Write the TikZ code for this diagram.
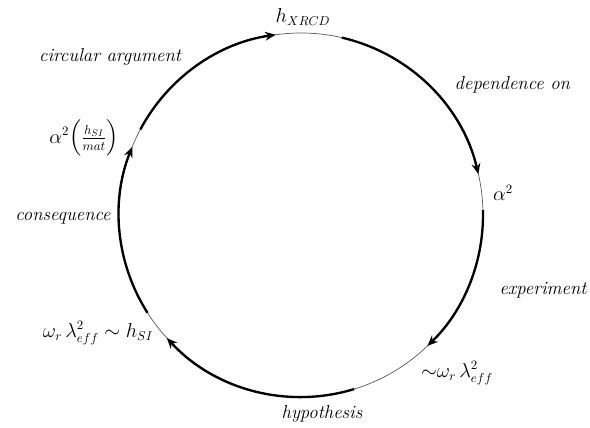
\documentclass[tikz,border=0pt]{standalone}
\usepackage{amsmath}
\usepackage{tikz}
\usetikzlibrary{arrows.meta,positioning}

\begin{document}
\begin{tikzpicture}[
	flow/.style={-{Stealth[length=9pt,width=7.5pt]}, line width=2pt},
	rim/.style={line width=0.6pt, black!65},
	state/.style={font=\fontsize{16}{19}\selectfont},
	step label/.style={font=\fontsize{16}{19}\selectfont\itshape}
	]
	\useasboundingbox (0,0) rectangle (17.7,12.81);
	\def\R{5.46}
	\coordinate (c) at (9.03,6.36);
	
	% thin ring under the arrows
	\draw[rim] (c) circle (\R);
	
	% start points of the thick arcs
	\coordinate (from hx) at ([shift={(77:\R)}]c);
	\coordinate (from al) at ([shift={(1.5:\R)}]c);
	\coordinate (from om) at ([shift={(-73:\R)}]c);
	\coordinate (from oh) at ([shift={(212.5:\R)}]c);
	\coordinate (from am) at ([shift={(152:\R)}]c);
	
	\draw[flow] (from hx) arc[start angle=77, end angle=13, radius=\R];
	\draw[flow] (from al) arc[start angle=1.5, end angle=-46, radius=\R];
	\draw[flow] (from om) arc[start angle=-73, end angle=-137.5, radius=\R];
	\draw[flow] (from oh) arc[start angle=212.5, end angle=158, radius=\R];
	\draw[flow] (from am) arc[start angle=152, end angle=98, radius=\R];
	
	% states on the ring
	\node[state] (hx) at (9.09, 12.3) {$h_{XRCD}$};
	\node[state] (al) at (15.09, 7.02) {$\alpha^2$};
	\node[state] (om) at (13.71, 1.62) {${\sim}\omega_r\,\lambda_{eff}^2$};
	\node[state] (oh) at (2.94, 2.82) {$\omega_r\,\lambda_{eff}^2\sim h_{SI}$};
	\node[state] (am) at (2.52, 8.67) {$\alpha^2\Bigl(\frac{h_{SI}}{mat}\Bigr)$};
	
	% steps between them
	\node[step label] (dep) at (15.37, 10.26) {dependence on};
	\node[step label] (exp) at (16.29, 4.11) {experiment};
	\node[step label] (hyp) at (9.66, 0.39) {hypothesis};
	\node[step label] (cons) at (1.89, 6.27) {consequence};
	\node[step label] (circ) at (3.3, 11.1) {circular argument};
	
\end{tikzpicture}
\end{document}
